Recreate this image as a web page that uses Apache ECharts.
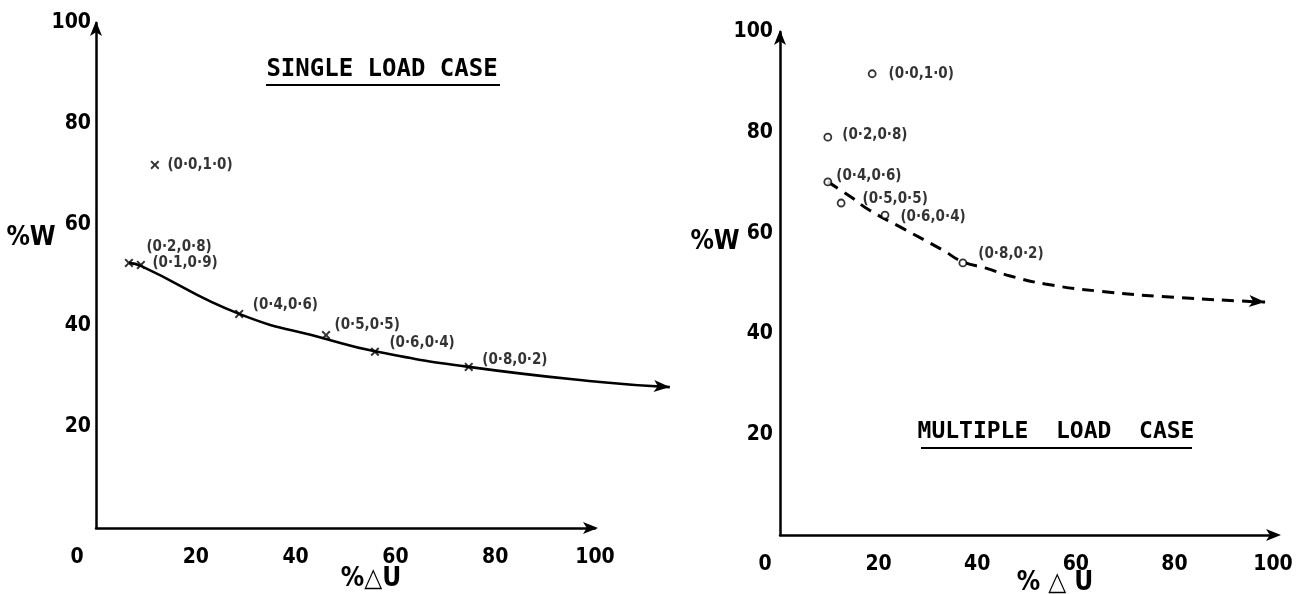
<!DOCTYPE html>
<html><head><meta charset="utf-8">
<script src="https://cdn.jsdelivr.net/npm/echarts@6/dist/echarts.min.js"></script>
<style>html,body{margin:0;padding:0;background:#fff}#c{width:1307px;height:594px}</style>
</head><body><div id="c"></div>
<script>
// ---- tick labels ----
const xTicks = [0, 20, 40, 60, 80, 100];
const yTicks = [20, 40, 60, 80, 100];

// ---- SINGLE LOAD CASE (%ΔU, %W) ----
const singleLabels = ['(0·0,1·0)', '(0·2,0·8)', '(0·1,0·9)', '(0·4,0·6)', '(0·5,0·5)', '(0·6,0·4)', '(0·8,0·2)'];
const singleU = [11.8, 6.6, 9.0, 28.7, 46.1, 55.9, 74.7];
const singleW = [71.9, 52.5, 52.1, 42.4, 38.2, 34.9, 31.9];
const singleCurveU = [6.6, 9.0, 28.7, 46.3, 55.9, 74.7, 101.0, 115.0];
const singleCurveW = [52.5, 51.9, 42.4, 37.4, 35.0, 31.9, 28.9, 27.9];

// ---- MULTIPLE LOAD CASE ----
const multiLabels = ['(0·0,1·0)', '(0·2,0·8)', '(0·4,0·6)', '(0·5,0·5)', '(0·6,0·4)', '(0·8,0·2)'];
const multiU = [18.7, 9.7, 9.7, 12.4, 21.3, 37.1];
const multiW = [91.7, 79.1, 70.2, 66.0, 63.6, 54.1];
const multiCurveU = [9.7, 14.4, 18.1, 25.2, 32.9, 37.1, 41.6, 46.7, 53.8, 64.5, 79.1, 98.4];
const multiCurveW = [70.2, 67.2, 64.6, 60.8, 56.7, 54.3, 53.1, 51.5, 49.9, 48.5, 47.3, 46.3];

// ---- texts ----
const titleSingle = 'SINGLE LOAD CASE';
const titleMulti = 'MULTIPLE  LOAD  CASE';
const yName = '%W';
const xNameSingle = '%△U';
const xNameMulti = '% △ U';

// ---- styling / layout ----
const TICK_FONT = '"DejaVu Sans Condensed","DejaVu Sans",sans-serif';
const LETTER_FONT = '"DejaVu Sans Condensed","DejaVu Sans",sans-serif';
const TITLE_FONT = '"DejaVu Sans Mono","Liberation Mono",monospace';
const singleLabelOffsets = [[8, 0], [13, -16], [7, -2], [9, -9], [4, -10], [10, -9], [9, -7]];
const multiLabelOffsets = [[12, 0], [10, -2], [4, -6], [17, -4], [11, 2], [11, -9]];
const crossPath = 'path://M0,1.6L1.6,0L5,3.4L8.4,0L10,1.6L6.6,5L10,8.4L8.4,10L5,6.6L1.6,10L0,8.4L3.4,5Z';
const TICK_SIZE = 21;

function xAxisFor(gridIndex, zeroShift, arrowOffset) {
  return {
    type: 'value', gridIndex, min: 0, max: 100, interval: 20,
    splitLine: { show: false }, axisTick: { show: false },
    axisLine: { show: true, onZero: false, lineStyle: { color: '#000', width: 2.5 },
      symbol: ['none', 'arrow'], symbolSize: [9, 15], symbolOffset: [0, arrowOffset] },
    axisLabel: {
      margin: 19, color: '#000', fontFamily: TICK_FONT, fontWeight: 'bold', fontSize: TICK_SIZE,
      formatter: v => v === 0 ? '{o|0}' : (xTicks.includes(v) ? String(v) : ''),
      rich: { o: { padding: [0, zeroShift * 2, 0, 0], color: '#000', fontFamily: TICK_FONT, fontWeight: 'bold', fontSize: TICK_SIZE } }
    }
  };
}
function yAxisFor(gridIndex, margin) {
  return {
    type: 'value', gridIndex, min: 0, max: 100, interval: 20,
    splitLine: { show: false }, axisTick: { show: false },
    axisLine: { show: true, onZero: false, lineStyle: { color: '#000', width: 2.5 },
      symbol: ['none', 'arrow'], symbolSize: [9, 15], symbolOffset: [0, 2] },
    axisLabel: {
      margin, color: '#000', fontFamily: TICK_FONT, fontWeight: 'bold', fontSize: TICK_SIZE,
      showMinLabel: false,
      formatter: v => yTicks.includes(v) ? String(v) : ''
    }
  };
}
const hiddenAxis = (gridIndex, max) => ({ type: 'value', gridIndex, min: 0, max, show: false, splitLine: { show: false } });
const textEl = (text, x, y, font) => ({ type: 'text', x, y, style: { text, font, fill: '#000', textAlign: 'center', textVerticalAlign: 'middle' } });
const lineEl = (x1, x2, y) => ({ type: 'line', shape: { x1, y1: y, x2, y2: y }, style: { stroke: '#000', lineWidth: 2.2 } });

const option = {
  animation: false,
  backgroundColor: '#fff',
  grid: [
    { left: 96, top: 23, width: 499, height: 505 },
    { left: 780, top: 32, width: 493, height: 503 },
    { left: 96, top: 23, width: 598.8, height: 505 }   // same scale as grid 0, room for the curve's tail
  ],
  xAxis: [xAxisFor(0, 19, 3), xAxisFor(1, 15, 8), hiddenAxis(2, 120)],
  yAxis: [yAxisFor(0, 5), yAxisFor(1, 7), hiddenAxis(2, 100)],
  graphic: [
    textEl(titleSingle, 382, 70, 'bold 24px ' + TITLE_FONT),
    lineEl(266, 500, 85),
    textEl(titleMulti, 1056, 432, 'bold 23px ' + TITLE_FONT),
    lineEl(921, 1192, 448),
    textEl(yName, 31, 238, 'bold 26px ' + TICK_FONT),
    textEl(yName, 715, 242, 'bold 26px ' + TICK_FONT),
    textEl(xNameSingle, 371, 579, 'bold 26px ' + TICK_FONT),
    textEl(xNameMulti, 1055, 583, 'bold 26px ' + TICK_FONT)
  ],
  series: [
    {
      type: 'line', xAxisIndex: 2, yAxisIndex: 2, smooth: 0.5, z: 2,
      symbol: 'none', showSymbol: true,
      lineStyle: { color: '#000', width: 2.6 },
      data: singleCurveU.map((u, i) => i === singleCurveU.length - 1
        ? { value: [u, singleCurveW[i]], symbol: 'arrow', symbolSize: [9, 16], symbolRotate: -94, itemStyle: { color: '#000' } }
        : { value: [u, singleCurveW[i]] })
    },
    {
      type: 'scatter', xAxisIndex: 0, yAxisIndex: 0, z: 3,
      symbol: crossPath, symbolSize: 9, itemStyle: { color: '#000' },
      label: { show: true, position: 'right', distance: 0, color: '#000', fontFamily: LETTER_FONT, fontWeight: 'bold', fontSize: 15,
        formatter: p => singleLabels[p.dataIndex] },
      data: singleU.map((u, i) => ({ value: [u, singleW[i]], label: { offset: singleLabelOffsets[i] } }))
    },
    {
      type: 'line', xAxisIndex: 1, yAxisIndex: 1, smooth: 0.5, z: 2,
      symbol: 'none', showSymbol: true,
      lineStyle: { color: '#000', width: 3, type: [12, 8] },
      data: multiCurveU.map((u, i) => i === multiCurveU.length - 1
        ? { value: [u, multiCurveW[i]], symbol: 'arrow', symbolSize: [9, 16], symbolRotate: -94, itemStyle: { color: '#000' } }
        : { value: [u, multiCurveW[i]] })
    },
    {
      type: 'scatter', xAxisIndex: 1, yAxisIndex: 1, z: 3,
      symbol: 'circle', symbolSize: 7, itemStyle: { color: '#fff', borderColor: '#000', borderWidth: 1.8 },
      label: { show: true, position: 'right', distance: 0, color: '#000', fontFamily: LETTER_FONT, fontWeight: 'bold', fontSize: 15,
        formatter: p => multiLabels[p.dataIndex] },
      data: multiU.map((u, i) => ({ value: [u, multiW[i]], label: { offset: multiLabelOffsets[i] } }))
    }
  ]
};
const chart = echarts.init(document.getElementById('c'));
chart.setOption(option);
</script>
</body></html>
